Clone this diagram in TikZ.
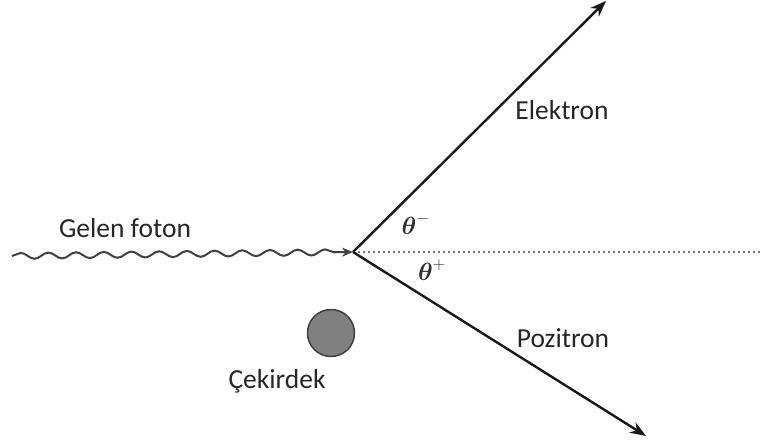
\documentclass[tikz,border=0pt]{standalone}
\usepackage{fontspec}
\usepackage{amsmath}
\setmainfont{Carlito}
\usetikzlibrary{decorations.pathmorphing,arrows.meta}
\begin{document}
\begin{tikzpicture}[x=1pt,y=-1pt,
  lbl/.style={font=\fontsize{27.5}{30}\selectfont, text=black!85, inner sep=0pt},
  ang/.style={font=\fontsize{23}{26}\selectfont, text=black!80, inner sep=0pt},
  track/.style={line width=2.4pt, black!90, -{Stealth[length=16pt,width=12pt]}},
  photon/.style={line width=2pt, black!75, -{Stealth[length=11pt,width=9pt]}, decorate,
     decoration={snake, amplitude=3pt, segment length=27.7pt, post length=9pt}}]
\useasboundingbox (0,0) rectangle (763,442);
\coordinate (start) at (12,256);
\coordinate (v) at (353,252);
\coordinate (eend) at (606,1);
\coordinate (pend) at (646,436);
\coordinate (dend) at (763,252);
\draw[photon] (start) -- (v);
\draw[black!55, line width=1.3pt, dash pattern=on 2pt off 3pt] (v) -- (dend);
\draw[track] (v) -- (eend);
\draw[track] (v) -- (pend);
\node[circle, minimum size=47pt, inner sep=0pt, fill=black!50, draw=black!75, line width=1.5pt] (nuc) at (331,333) {};
\node[lbl] (gl) at (125,228) {Gelen foton};
\node[lbl] (el) at (562,110) {Elektron};
\node[lbl] (po) at (563,338) {Pozitron};
\node[lbl] (ck) at (277,381) {Çekirdek};
\node[ang] (tm) at (416,224) {$\boldsymbol{\theta}^{-}$};
\node[ang] (tp) at (432,270) {$\boldsymbol{\theta}^{+}$};
\end{tikzpicture}
\end{document}
